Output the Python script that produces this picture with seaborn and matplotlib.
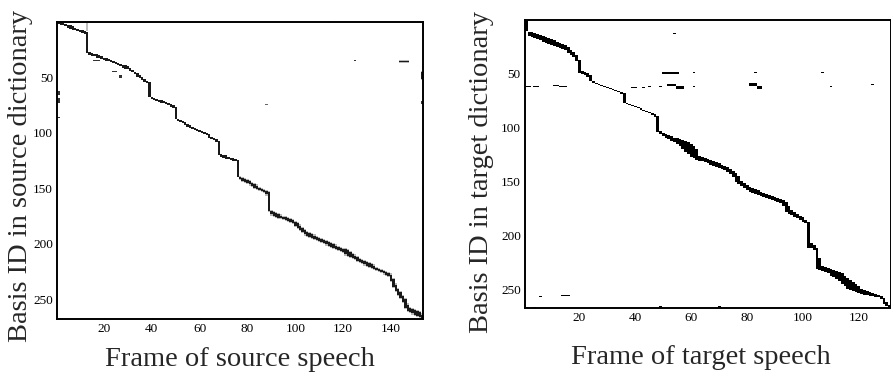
import numpy as np
import matplotlib
matplotlib.use("Agg")
import matplotlib.pyplot as plt
from matplotlib.colors import LinearSegmentedColormap
import seaborn as sns

sns.set_style("white")
plt.rcParams['font.family'] = ['Liberation Serif', 'DejaVu Serif']

# ---------------- data: source (left) ----------------
SRC_N_BASIS = 267
SRC_N_FRAMES = 153
# active basis range (lo, hi) for each frame 1..153
src_lo = [1, 1, 2, 3, 4, 4, 5, 6, 7, 8, 8, 9,
          10,
          28, 29, 30, 30, 31, 32, 33, 33, 34, 35, 36, 37, 38, 39, 40, 40, 41, 42, 44, 46, 47, 49, 50, 52, 54,
          55,
          68, 69, 70, 71, 71, 72, 73, 74, 75, 76,
          77,
          88, 89, 90, 91, 93, 94, 95, 96, 97, 98, 99, 100, 101, 102, 104, 105, 106,
          108,
          120, 121, 121, 122, 123, 123, 124,
          125,
          140, 141, 142, 143, 144, 146, 147, 148, 150, 151, 152, 153,
          154,
          171, 172, 173, 174, 175, 176, 176, 177, 178, 179,
          181, 182, 184, 186, 188, 190, 191, 192, 193, 194,
          195, 196, 197, 198, 199, 200, 201, 202, 203, 204,
          205, 205, 206, 208, 210, 211, 212, 214, 215, 216,
          217, 218, 219, 220, 222, 223, 224, 225, 226, 227,
          228, 232, 237, 241, 244, 247, 250, 255, 258, 259, 260, 261, 262, 264]
src_hi = [2, 3, 3, 4, 5, 6, 7, 7, 8, 9, 10, 11,
          28,
          30, 31, 31, 32, 32, 33, 34, 35, 35, 36, 37, 38, 39, 40, 41, 42, 42, 44, 45, 47, 49, 50, 52, 54, 55,
          67,
          69, 70, 71, 72, 73, 73, 74, 75, 76, 77,
          87,
          89, 90, 91, 93, 94, 95, 96, 97, 98, 99, 100, 101, 102, 104, 105, 106, 108,
          120,
          121, 122, 123, 123, 124, 125, 125,
          139,
          141, 143, 144, 145, 146, 147, 149, 150, 151, 152, 153, 155,
          170,
          173, 174, 175, 176, 176, 177, 178, 179, 180, 181,
          183, 185, 187, 189, 191, 192, 193, 194, 195, 196,
          197, 198, 199, 200, 201, 202, 203, 204, 205, 206,
          207, 209, 210, 211, 212, 213, 215, 216, 217, 218,
          219, 220, 221, 222, 223, 224, 225, 226, 227, 228,
          233, 238, 242, 245, 248, 252, 257, 260, 261, 262, 263, 264, 265, 267]
# isolated marks: frame range, basis range, intensity
src_stray_f0 = [13, 16, 24, 27, 1, 1, 1, 125, 144, 153, 153, 88, 114]
src_stray_f1 = [13, 18, 25, 27, 1, 1, 1, 125, 147, 153, 153, 88, 114]
src_stray_b0 = [1, 35, 45, 49, 63, 69, 86, 35, 36, 46, 72, 75, 1]
src_stray_b1 = [8, 35, 45, 50, 66, 73, 86, 35, 36, 51, 74, 75, 1]
src_stray_v = [0.25, 0.8, 0.8, 0.8, 0.8, 0.8, 0.8, 0.8, 0.9, 0.9, 0.8, 0.6, 0.5]

# ---------------- data: target (right) ----------------
TGT_N_BASIS = 267
TGT_N_FRAMES = 131
tgt_lo = [1,
          12, 12, 13, 14, 15, 16, 17, 18, 19, 20, 21, 22, 23, 24, 26, 29, 31, 33,
          38,
          48, 49, 50, 52, 58, 59, 60, 61, 62, 63, 64, 65, 66, 67, 68,
          69,
          78, 79, 80, 81, 82, 83, 84, 85, 86, 87, 88,
          90,
          104, 106, 107, 108, 109, 110, 110, 111, 112, 113,
          114, 116, 118, 121, 127, 128, 129, 130, 131, 132,
          133, 134, 135, 136, 137, 139, 141, 143, 146, 150,
          152, 154, 156, 157, 158, 159, 160, 161, 162, 163,
          164, 165, 166, 167, 168, 170, 173, 177, 179, 181,
          183, 184, 186,
          188,
          208, 210,
          212,
          222,
          229, 230, 231, 232, 233, 234, 235, 236, 238, 240, 242, 244, 246, 248, 250, 251, 252, 253, 254,
          255, 256, 257, 259, 262, 265]
tgt_hi = [10,
          15, 16, 17, 18, 19, 20, 21, 22, 23, 24, 25, 26, 27, 28, 31, 32, 34, 38,
          49,
          50, 51, 53, 57, 58, 59, 60, 61, 62, 63, 64, 65, 66, 67, 69,
          77,
          78, 79, 80, 81, 82, 83, 84, 85, 86, 88, 90,
          104,
          106, 108, 109, 110, 112, 113, 115, 117, 120, 122,
          124, 127, 128, 130, 131, 131, 132, 133, 134, 135,
          136, 137, 138, 139, 141, 143, 146, 150, 152, 154,
          156, 158, 159, 160, 161, 162, 163, 164, 165, 166,
          167, 168, 169, 170, 172, 178, 180, 181, 183, 184,
          185, 187, 188,
          211,
          211, 213,
          231,
          232,
          233, 234, 235, 237, 238, 240, 242, 245, 247, 249, 250, 251, 252, 253, 254, 255, 255, 256, 256,
          257, 257, 259, 263, 265, 267]
tgt_stray_f0 = [1, 4, 11, 13, 39, 43, 45, 49, 52, 55, 61, 81, 84, 110, 125,
                50, 61, 83, 107, 54, 6, 14, 4, 49, 70]
tgt_stray_f1 = [2, 5, 12, 15, 40, 43, 45, 49, 54, 57, 61, 83, 85, 110, 125,
                55, 61, 83, 107, 54, 6, 16, 4, 49, 70]
tgt_stray_b0 = [62, 62, 61, 62, 63, 63, 62, 62, 60, 62, 62, 59, 62, 62, 60,
                49, 49, 49, 49, 13, 257, 256, 267, 266, 266]
tgt_stray_b1 = [62, 62, 61, 62, 63, 63, 62, 62, 61, 64, 62, 61, 64, 62, 60,
                50, 49, 49, 49, 13, 257, 256, 267, 266, 266]

src_xticks = [20, 40, 60, 80, 100, 120, 140]
tgt_xticks = [20, 40, 60, 80, 100, 120]
yticks = [50, 100, 150, 200, 250]

SRC_CORE = 0.9
SRC_HALO = 0.28
SRC_HALO_FROM = 77


def build(n_basis, n_frames, lo, hi, f0, f1, b0, b1, core, sv=None):
    m = np.zeros((n_basis, n_frames))
    for j, (a, b) in enumerate(zip(lo, hi)):
        m[a - 1:b, j] = core
    for k in range(len(f0)):
        v = core if sv is None else sv[k]
        m[b0[k] - 1:b1[k], f0[k] - 1:f1[k]] = np.maximum(
            m[b0[k] - 1:b1[k], f0[k] - 1:f1[k]], v)
    return m


src = build(SRC_N_BASIS, SRC_N_FRAMES, src_lo, src_hi, src_stray_f0, src_stray_f1,
            src_stray_b0, src_stray_b1, SRC_CORE, src_stray_v)
# soft grey rim (vertical neighbours only) around the thicker part of the source path
core_mask = src >= SRC_CORE
rim = np.roll(core_mask, 1, axis=0) | np.roll(core_mask, -1, axis=0)
rim[:, :SRC_HALO_FROM - 1] = False
src = np.where((src == 0) & rim, SRC_HALO, src)

tgt = build(TGT_N_BASIS, TGT_N_FRAMES, tgt_lo, tgt_hi, tgt_stray_f0, tgt_stray_f1,
            tgt_stray_b0, tgt_stray_b1, 1.0)

cmap = LinearSegmentedColormap.from_list("wk", ["#ffffff", "#000000"])

W, H = 891, 378
fig = plt.figure(figsize=(W / 100, H / 100), dpi=100)
ax1 = fig.add_axes([57.3 / W, 1 - 319 / H, 366 / W, 297 / H])
ax2 = fig.add_axes([525 / W, 1 - 308 / H, 366 / W, 288 / H])

for ax, mat, xt in [(ax1, src, src_xticks), (ax2, tgt, tgt_xticks)]:
    sns.heatmap(mat, ax=ax, cmap=cmap, vmin=0, vmax=1, cbar=False,
                xticklabels=False, yticklabels=False, rasterized=True)
    ax.set_xticks([t - 0.5 for t in xt])
    ax.set_xticklabels([str(t) for t in xt])
    ax.set_yticks([t - 0.5 for t in yticks])
    ax.set_yticklabels([str(t) for t in yticks], rotation=0)
    for s in ax.spines.values():
        s.set_visible(True)
        s.set_color("black")
        s.set_linewidth(1.4)
    ax.tick_params(direction="in", top=True, right=True, bottom=True, left=True,
                   length=4, width=0.8, labelsize=9.5, pad=3, colors="black")

fig.text(21 / W, 1 - 176 / H, "Basis ID in source dictionary", rotation=90,
         ha="center", va="center", fontsize=20.5)
fig.text(240 / W, 1 - 359 / H, "Frame of source speech", ha="center", va="center",
         fontsize=20.5)
fig.text(481 / W, 1 - 172 / H, "Basis ID in target dictionary", rotation=90,
         ha="center", va="center", fontsize=20.5)
fig.text(701 / W, 1 - 357 / H, "Frame of target speech", ha="center", va="center",
         fontsize=20.5)

fig.savefig("out.png", dpi=100)
